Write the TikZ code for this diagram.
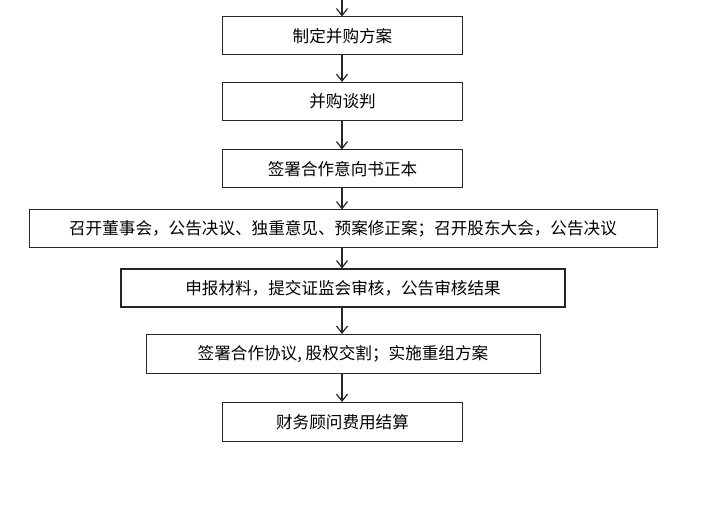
\documentclass[tikz,border=0pt]{standalone}
\usepackage{fontspec}
\setmainfont{Noto Sans CJK SC}
\usetikzlibrary{arrows.meta}
\begin{document}
\begin{tikzpicture}[x=1pt,y=-1pt,
  box/.style={draw=black!85,line width=1pt,inner sep=0pt,font=\fontsize{16.6}{19}\selectfont},
  thickbox/.style={box,line width=2pt},
  flow/.style={draw=black!85,line width=1.2pt,-{Straight Barb[length=7pt,width=11pt,line width=1.2pt]}}]
\useasboundingbox (0,0) rectangle (705,526);
\fill[white] (0,0) rectangle (705,526);
\coordinate (top) at (342,0);
\node[box,minimum width=240pt,minimum height=38pt] (b1) at (342.5,36) {制定并购方案};
\node[box,minimum width=240pt,minimum height=38pt] (b2) at (342.5,101.5) {并购谈判};
\node[box,minimum width=240pt,minimum height=38pt] (b3) at (342.5,169) {签署合作意向书正本};
\node[box,minimum width=628pt,minimum height=38pt] (b4) at (343,229) {召开董事会，公告决议、独重意见、预案修正案；召开股东大会，公告决议};
\node[thickbox,minimum width=444pt,minimum height=38pt] (b5) at (343,288.5) {申报材料，提交证监会审核，公告审核结果};
\node[box,minimum width=394pt,minimum height=39pt] (b6) at (343,354) {签署合作协议, 股权交割；实施重组方案};
\node[box,minimum width=240pt,minimum height=39pt] (b7) at (342.5,422) {财务顾问费用结算};
\draw[flow] (top) -- (b1.north -| top);
\draw[flow] (b1.south -| top) -- (b2.north -| top);
\draw[flow] (b2.south -| top) -- (b3.north -| top);
\draw[flow] (b3.south -| top) -- (b4.north -| top);
\draw[flow] (b4.south -| top) -- (b5.north -| top);
\draw[flow] (b5.south -| top) -- (b6.north -| top);
\draw[flow] (b6.south -| top) -- (b7.north -| top);
\end{tikzpicture}
\end{document}
